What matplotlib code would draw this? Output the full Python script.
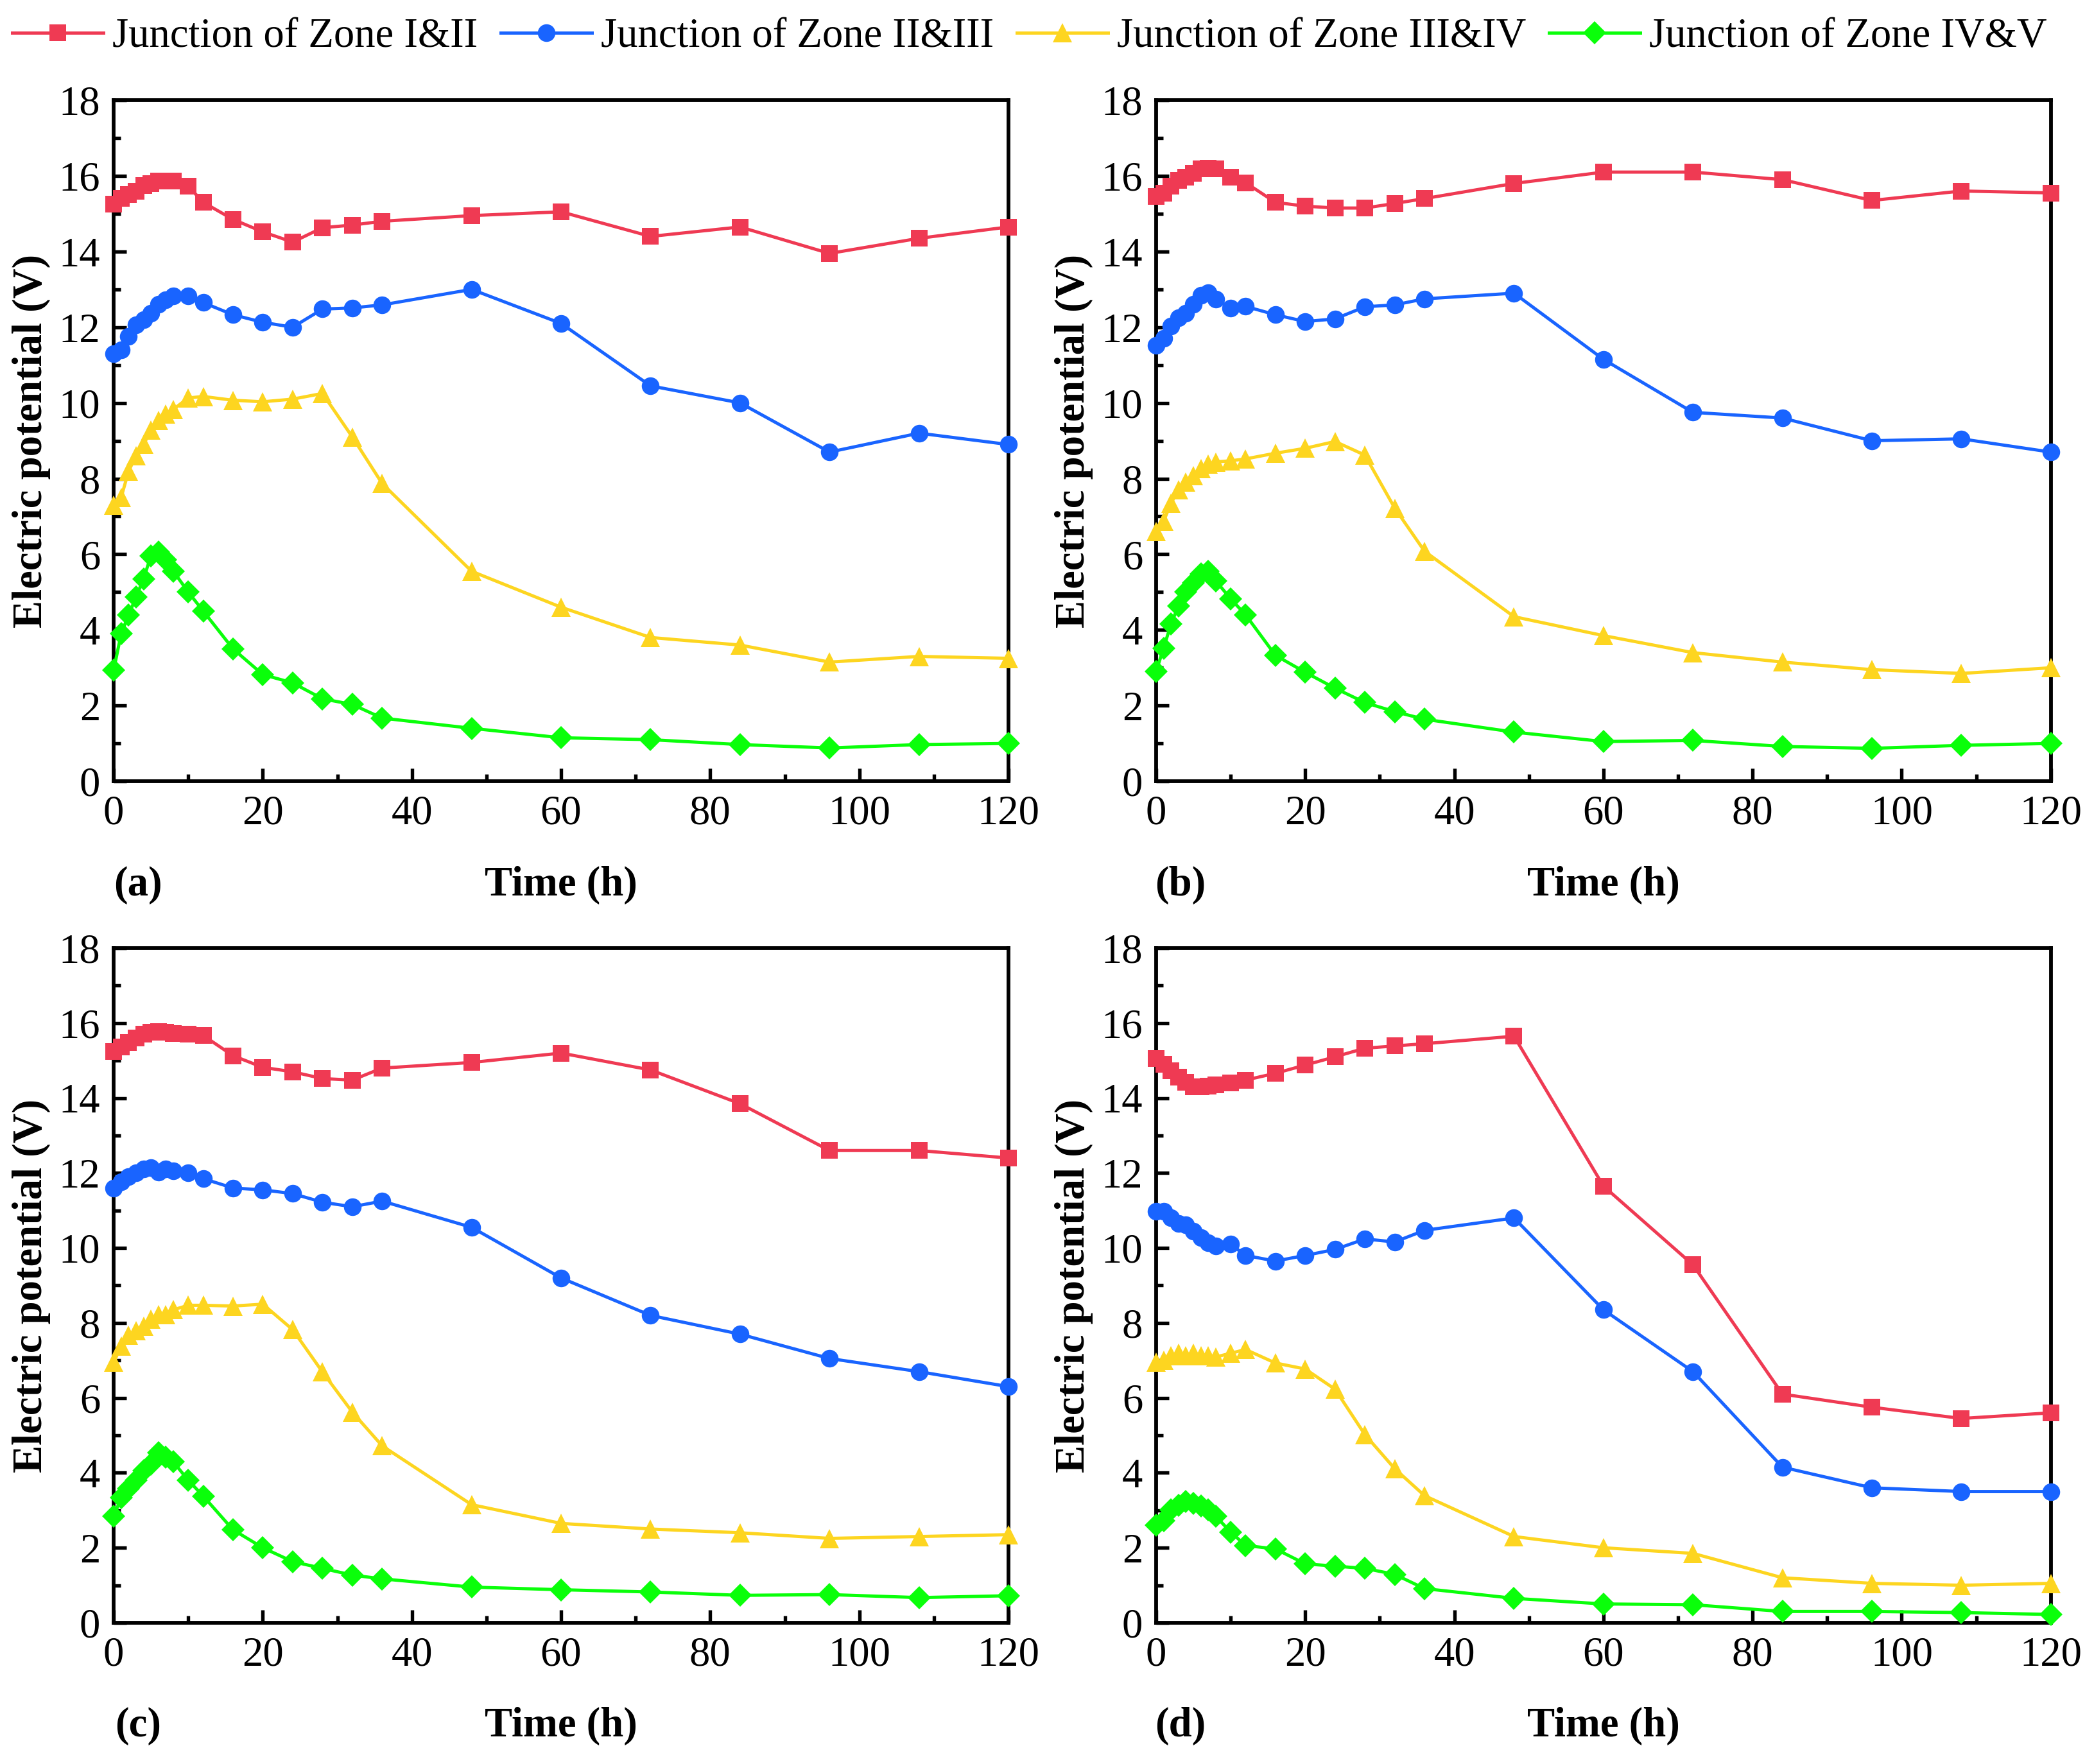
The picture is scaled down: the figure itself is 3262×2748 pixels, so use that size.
import matplotlib
matplotlib.use("Agg")
import matplotlib.pyplot as plt
from matplotlib.ticker import MultipleLocator

plt.rcParams['font.family'] = ['Liberation Serif', 'DejaVu Serif']

# sampling times (h)
time_h = [0, 1, 2, 3, 4, 5, 6, 7, 8, 10, 12, 16, 20, 24, 28, 32, 36,
          48, 60, 72, 84, 96, 108, 120]

series_names = ["Junction of Zone I&II", "Junction of Zone II&III",
                "Junction of Zone III&IV", "Junction of Zone IV&V"]
panel_tags = ["(a)", "(b)", "(c)", "(d)"]

# panel (a)
a_zone12 = [15.25, 15.4, 15.5, 15.6, 15.75, 15.8, 15.87, 15.87, 15.87, 15.73, 15.3, 14.85,
            14.52, 14.25, 14.63, 14.7, 14.8, 14.95, 15.05, 14.4, 14.65, 13.95, 14.35, 14.65]
a_zone23 = [11.3, 11.4, 11.76, 12.07, 12.2, 12.37, 12.6, 12.73, 12.82, 12.82, 12.65, 12.33,
            12.13, 12.0, 12.48, 12.51, 12.59, 13.0, 12.1, 10.45, 10.0, 8.7, 9.2, 8.9]
a_zone34 = [7.3, 7.5, 8.2, 8.6, 8.9, 9.28, 9.53, 9.7, 9.83, 10.13, 10.17, 10.07,
            10.03, 10.1, 10.25, 9.1, 7.87, 5.55, 4.6, 3.8, 3.6, 3.15, 3.3, 3.25]
a_zone45 = [2.94, 3.9, 4.4, 4.87, 5.35, 5.96, 6.05, 5.85, 5.55, 5.0, 4.5, 3.5,
            2.82, 2.6, 2.18, 2.03, 1.67, 1.4, 1.15, 1.1, 0.97, 0.88, 0.97, 1.0]

# panel (b)
b_zone12 = [15.45, 15.54, 15.73, 15.88, 15.96, 16.06, 16.18, 16.2, 16.18, 15.97, 15.82, 15.3,
            15.2, 15.15, 15.15, 15.27, 15.4, 15.8, 16.1, 16.1, 15.9, 15.35, 15.6, 15.55]
b_zone23 = [11.52, 11.7, 12.03, 12.25, 12.37, 12.6, 12.85, 12.91, 12.75, 12.5, 12.55, 12.33,
            12.15, 12.22, 12.54, 12.59, 12.75, 12.9, 11.15, 9.75, 9.6, 9.0, 9.05, 8.7]
b_zone34 = [6.6, 6.87, 7.35, 7.7, 7.9, 8.08, 8.26, 8.38, 8.44, 8.47, 8.52, 8.67,
            8.8, 8.98, 8.62, 7.22, 6.08, 4.35, 3.85, 3.4, 3.15, 2.95, 2.85, 3.0]
b_zone45 = [2.9, 3.52, 4.15, 4.64, 5.0, 5.24, 5.48, 5.55, 5.3, 4.82, 4.4, 3.33,
            2.88, 2.46, 2.08, 1.84, 1.64, 1.3, 1.05, 1.08, 0.92, 0.87, 0.95, 1.0]

# panel (c)
c_zone12 = [15.25, 15.37, 15.49, 15.6, 15.7, 15.75, 15.78, 15.76, 15.73, 15.7, 15.67, 15.13,
            14.82, 14.7, 14.52, 14.48, 14.8, 14.95, 15.2, 14.75, 13.85, 12.6, 12.6, 12.4]
c_zone23 = [11.6, 11.77, 11.9, 12.0, 12.1, 12.15, 12.02, 12.1, 12.06, 12.0, 11.85, 11.6,
            11.55, 11.45, 11.22, 11.1, 11.25, 10.55, 9.2, 8.2, 7.7, 7.05, 6.7, 6.3]
c_zone34 = [6.95, 7.38, 7.68, 7.8, 7.92, 8.1, 8.22, 8.22, 8.35, 8.47, 8.47, 8.45,
            8.5, 7.82, 6.69, 5.62, 4.72, 3.15, 2.65, 2.5, 2.4, 2.25, 2.3, 2.35]
c_zone45 = [2.84, 3.33, 3.57, 3.8, 4.05, 4.23, 4.53, 4.41, 4.29, 3.8, 3.38, 2.48,
            2.0, 1.63, 1.45, 1.27, 1.17, 0.95, 0.88, 0.82, 0.73, 0.75, 0.67, 0.72]

# panel (d)
d_zone12 = [15.05, 14.9, 14.73, 14.55, 14.42, 14.3, 14.3, 14.32, 14.36, 14.4, 14.48, 14.66,
            14.88, 15.1, 15.33, 15.39, 15.45, 15.65, 11.65, 9.55, 6.1, 5.75, 5.45, 5.6]
d_zone23 = [10.98, 10.98, 10.8, 10.66, 10.62, 10.44, 10.28, 10.14, 10.06, 10.1, 9.8, 9.65,
            9.8, 9.96, 10.24, 10.16, 10.47, 10.8, 8.35, 6.7, 4.15, 3.6, 3.5, 3.5]
d_zone34 = [6.95, 7.0, 7.13, 7.19, 7.13, 7.19, 7.13, 7.13, 7.09, 7.19, 7.29, 6.93,
            6.77, 6.23, 5.02, 4.11, 3.39, 2.3, 2.0, 1.85, 1.2, 1.05, 1.0, 1.05]
d_zone45 = [2.6, 2.72, 3.02, 3.14, 3.23, 3.18, 3.11, 3.02, 2.84, 2.42, 2.06, 1.97,
            1.57, 1.51, 1.45, 1.29, 0.91, 0.65, 0.5, 0.48, 0.3, 0.3, 0.27, 0.22]

panels = [
    [a_zone12, a_zone23, a_zone34, a_zone45],
    [b_zone12, b_zone23, b_zone34, b_zone45],
    [c_zone12, c_zone23, c_zone34, c_zone45],
    [d_zone12, d_zone23, d_zone34, d_zone45],
]

colors = ["#EF3A53", "#1964FF", "#FDD520", "#0AFF0A"]
markers = ["s", "o", "^", "D"]
msizes = [6.4, 6.6, 7.0, 6.2]
fs = 15.5

fig = plt.figure(figsize=(3262 / 300, 2748 / 300), dpi=300)

# axes boxes in figure fractions: left, bottom, width, height
boxes = [
    [0.0543, 0.5571, 0.4273, 0.3861],
    [0.5521, 0.5571, 0.4273, 0.3861],
    [0.0543, 0.0801, 0.4273, 0.3824],
    [0.5521, 0.0801, 0.4273, 0.3824],
]

handles = []
for i, (box, data) in enumerate(zip(boxes, panels)):
    ax = fig.add_axes(box)
    for j, ys in enumerate(data):
        ln, = ax.plot(time_h, ys, color=colors[j], marker=markers[j], markersize=msizes[j],
                      markeredgewidth=0, linewidth=1.2, label=series_names[j], clip_on=False,
                      zorder=3)
        if i == 0:
            handles.append(ln)

    ax.set_xlim(0, 120)
    ax.set_ylim(0, 18)
    ax.xaxis.set_major_locator(MultipleLocator(20))
    ax.xaxis.set_minor_locator(MultipleLocator(10))
    ax.yaxis.set_major_locator(MultipleLocator(2))
    ax.yaxis.set_minor_locator(MultipleLocator(1))
    ax.tick_params(which="both", direction="in", top=False, right=False, labelsize=fs,
                   width=1.3)
    ax.tick_params(which="major", length=4.8, pad=5)
    ax.tick_params(which="minor", length=2.6)
    for sp in ax.spines.values():
        sp.set_linewidth(1.4)

    ax.set_ylabel("Electric potential (V)", fontsize=fs, fontweight="bold", labelpad=3)
    ax.text(0.5, -0.153, "Time (h)", transform=ax.transAxes, ha="center", va="center",
            fontsize=fs, fontweight="bold")
    ax.text(0.027, -0.153, panel_tags[i], transform=ax.transAxes, ha="center", va="center",
            fontsize=fs, fontweight="bold")

fig.legend(handles=handles, loc="center", bbox_to_anchor=(0.4917, 0.979), ncol=4,
           frameon=False, fontsize=fs, handlelength=2.2, handletextpad=0.22,
           columnspacing=0.55, borderaxespad=0, borderpad=0)

fig.savefig("out.png", dpi=300)
